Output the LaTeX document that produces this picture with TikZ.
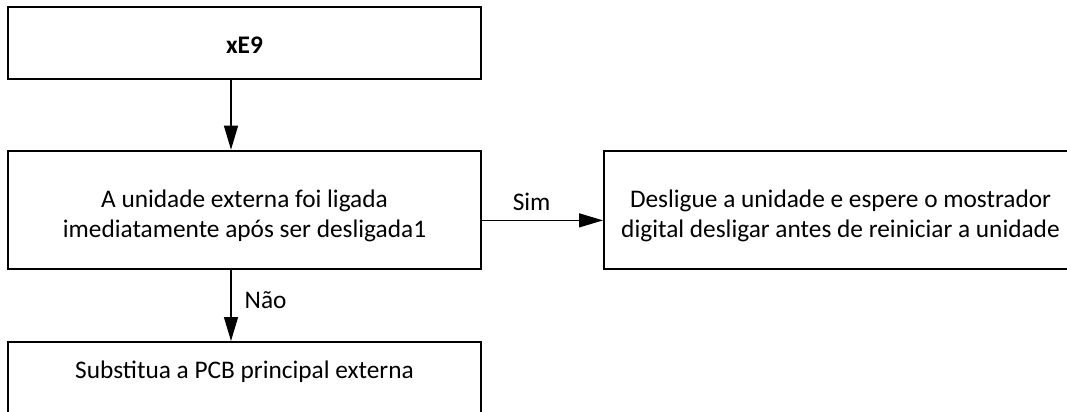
\documentclass[tikz,border=0pt]{standalone}
\usepackage{fontspec}
\setmainfont{Carlito}
\usetikzlibrary{shapes,arrows.meta,positioning,calc}

\begin{document}
\begin{tikzpicture}[x=0.75pt,y=-0.75pt,
  box/.style={draw, line width=1.5pt, minimum width=354.75pt, inner sep=0pt,
    align=center, font=\fontsize{19}{22.5}\selectfont},
  flow/.style={line width=1pt, -{Triangle[length=18pt,width=10.5pt]}},
  lbl/.style={inner sep=0pt, font=\fontsize{19}{22.5}\selectfont}]
\useasboundingbox (0,0) rectangle (1067,411);
% boxes
\node[box, minimum height=54pt, text height=16pt, text depth=0pt] (xe9) at (244.5,42.7) {\textbf{xE9}};
\node[box, minimum height=88.5pt, text height=41.4pt, text depth=0pt] (q1) at (244.5,209.7)
  {A unidade externa foi ligada\\imediatamente após ser desligada1};
\node[box, minimum height=88.5pt, text height=41.4pt, text depth=0pt] (fix1) at (840.5,209.7)
  {Desligue a unidade e espere o mostrador\\digital desligar antes de reiniciar a unidade};
\node[box, minimum height=54pt, text height=5pt, text depth=5pt] (fix2) at (244.5,378) {Substitua a PCB principal externa};
% arrows
\draw[flow] ([xshift=-10.125pt]xe9.south) -- ([xshift=-10.125pt]q1.north);
\draw[flow] ([yshift=-8pt]q1.east) -- node[lbl, anchor=base, yshift=7.5pt, pos=0.41] {Sim} ([yshift=-8pt]fix1.west);
\draw[flow] ([xshift=-10.125pt]q1.south) -- node[lbl, anchor=base west, xshift=9.75pt, yshift=-2.2pt] {Não} ([xshift=-10.125pt]fix2.north);
\end{tikzpicture}
\end{document}
